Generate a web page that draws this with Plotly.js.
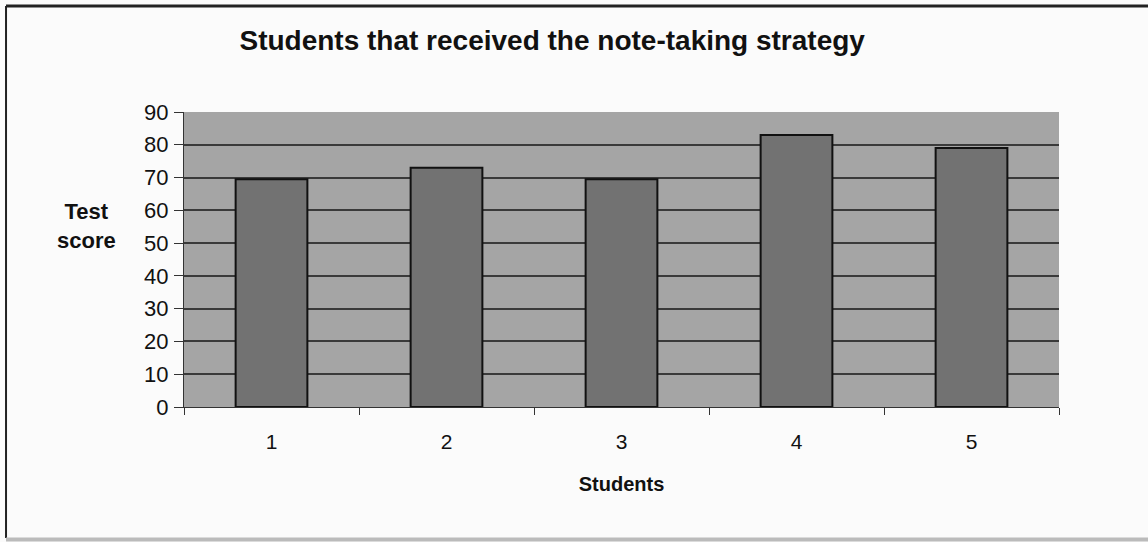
<!DOCTYPE html>
<html>
<head>
<meta charset="utf-8">
<script src="https://cdn.plot.ly/plotly-3.0.1.min.js"></script>
<style>html,body{margin:0;padding:0;background:#fbfbfb;}#chart{width:1148px;height:542px;}</style>
</head>
<body>
<div id="chart"></div>
<script>
const students = ["1", "2", "3", "4", "5"];
const scores = [69.5, 73, 69.5, 83, 79];
const yTicks = [0, 10, 20, 30, 40, 50, 60, 70, 80, 90];

const trace = {
  type: "bar",
  x: students,
  y: scores,
  marker: { color: "#727272", line: { color: "#111", width: 2 } },
  hoverinfo: "x+y"
};

const layout = {
  width: 1148,
  height: 542,
  margin: { l: 184, r: 89, t: 112, b: 135 },
  paper_bgcolor: "#fbfbfb",
  plot_bgcolor: "#a5a5a5",
  bargap: 0.59,
  showlegend: false,
  font: { family: "Liberation Sans, Arial, sans-serif", color: "#111", size: 21 },
  title: {
    text: "<b>Students that received the note-taking strategy</b>",
    font: { size: 28, family: "Liberation Sans, Arial, sans-serif", color: "#111" },
    x: 0.481, xanchor: "center", y: 0.925, yanchor: "middle"
  },
  xaxis: {
    type: "category",
    tickson: "boundaries",
    ticks: "outside",
    ticklen: 7,
    tickcolor: "#333",
    showline: true,
    linecolor: "#333",
    linewidth: 1,
    showgrid: false,
    tickfont: { size: 21 },
    ticklabelstandoff: 16,
    title: { text: "<b>Students</b>", font: { size: 20 }, standoff: 24 }
  },
  yaxis: {
    range: [0, 90],
    tickvals: yTicks,
    ticks: "outside",
    ticklen: 9,
    tickcolor: "#333",
    showline: true,
    linecolor: "#333",
    linewidth: 1,
    showgrid: true,
    gridcolor: "#3a3a3a",
    gridwidth: 2,
    zeroline: false,
    tickfont: { size: 22 },
    ticklabelstandoff: 1
  },
  annotations: [
    {
      text: "<b>Test<br>score</b>",
      xref: "paper", yref: "paper",
      x: -0.111, y: 0.614, xanchor: "center", yanchor: "middle",
      showarrow: false, align: "center",
      font: { size: 22, color: "#111" }
    }
  ],
  shapes: [
    { type: "line", xref: "paper", yref: "paper", x0: -0.2034, x1: -0.2034, y0: -0.444, y1: 1.359, line: { color: "#222", width: 2 } },
    { type: "line", xref: "paper", yref: "paper", x0: -0.2034, x1: 1.102, y0: 1.359, y1: 1.359, line: { color: "#222", width: 3 } },
    { type: "line", xref: "paper", yref: "paper", x0: -0.2034, x1: 1.102, y0: -0.449, y1: -0.449, line: { color: "#bbb", width: 4 } }
  ]
};

Plotly.newPlot("chart", [trace], layout, { displayModeBar: false, staticPlot: true });
</script>
</body>
</html>
